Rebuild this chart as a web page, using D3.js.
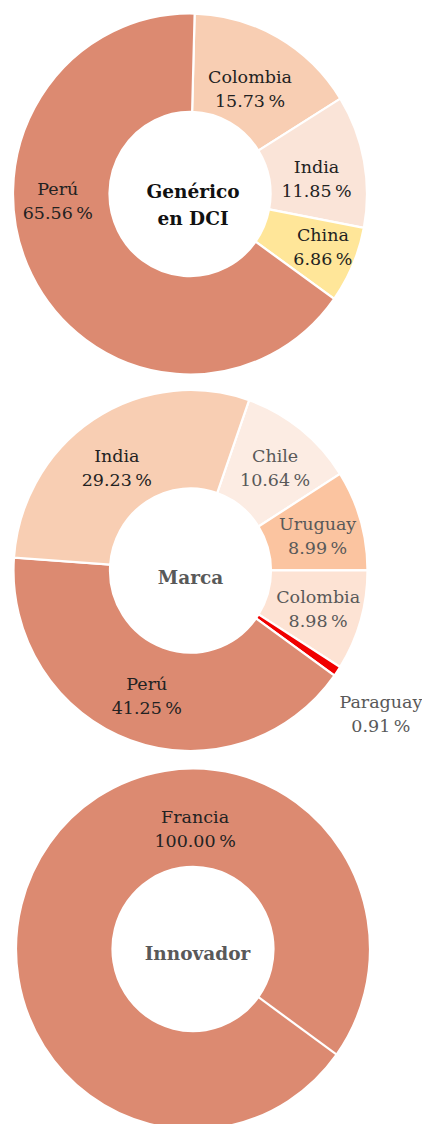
<!DOCTYPE html>
<html>
<head>
<meta charset="utf-8">
<script src="https://cdn.jsdelivr.net/npm/d3@7"></script>
<style>
  body { margin: 0; background: #fff; }
  svg text { font-family: "DejaVu Serif", serif; }
</style>
</head>
<body>
<div id="chart"></div>
<script>
// data: share of units by country of origin, per product type
const genCountries = ["Colombia", "India", "China", "Perú"];
const genShares = [15.73, 11.85, 6.86, 65.56];

const marcaCountries = ["Chile", "Uruguay", "Colombia", "Paraguay", "Perú", "India"];
const marcaShares = [10.64, 8.99, 8.98, 0.91, 41.25, 29.23];

const innovCountries = ["Francia"];
const innovShares = [100.00];

const centerTitles = [["Genérico", "en DCI"], ["Marca"], ["Innovador"]];

// styles
const genColors = ["#F8CEB3", "#FAE4D8", "#FFE699", "#DC8A71"];
const genText = ["#222", "#222", "#222", "#222"];
const marcaColors = ["#FCECE3", "#FBC4A0", "#FDE3D4", "#F00000", "#DC8A71", "#F8CEB3"];
const marcaText = ["#595959", "#595959", "#595959", "#595959", "#222", "#222"];
const innovColors = ["#DC8A71"];
const innovText = ["#222"];

const width = 422, height = 1124;
const rOuter = 177, rInner = 80.5, yStretch = 1.02;

const svg = d3.select("#chart").append("svg")
  .attr("width", width)
  .attr("height", height);

const deg = Math.PI / 180;

const charts = [
  { names: genCountries, values: genShares, colors: genColors, text: genText,
    cx: 190, cy: 194, start: 1.5, title: centerTitles[0], titleColor: "#111",
    titleDx: 3, titleDy: 4,
    nudge: [[-4, 1], [0, 2.5], [14.5, -3.5], [-17, -56.5]], outside: [] },
  { names: marcaCountries, values: marcaShares, colors: marcaColors, text: marcaText,
    cx: 190.5, cy: 570.5, start: 19.33, title: centerTitles[1], titleColor: "#595959",
    titleDx: 0, titleDy: 13.5,
    nudge: [[4.5, -7.5], [3.5, -4.5], [4, -3.5], [-7, 4.5], [0, -1.5], [-3, -1]], outside: ["Paraguay"] },
  { names: innovCountries, values: innovShares, colors: innovColors, text: innovText,
    cx: 193, cy: 949, start: 125.8, title: centerTitles[2], titleColor: "#595959",
    titleDx: 4.5, titleDy: 11,
    nudge: [[106.5, -50.5]], outside: [] }
];

charts.forEach(drawDonut);

function drawDonut(c) {
  const rows = c.names.map((n, i) => ({ name: n, value: c.values[i], i: i }));

  const pie = d3.pie()
    .sort(null)
    .value(d => d.value)
    .startAngle(c.start * deg)
    .endAngle(c.start * deg + 2 * Math.PI);

  const arc = d3.arc().innerRadius(rInner).outerRadius(rOuter);
  const outerArc = d3.arc().innerRadius(238).outerRadius(238);

  const arcs = pie(rows);

  const g = svg.append("g")
    .attr("transform", `translate(${c.cx},${c.cy})`);

  const ring = g.append("g")
    .attr("transform", `scale(1,${yStretch})`);

  ring.selectAll("path")
    .data(arcs)
    .enter()
    .append("path")
    .attr("d", arc)
    .attr("fill", d => c.colors[d.data.i])
    .attr("stroke", "#fff")
    .attr("stroke-width", 2.2);

  // a single full slice has no radial edge, draw the seam by hand
  if (arcs.length === 1) {
    const a = arcs[0].startAngle;
    const p0 = d3.pointRadial(a, rInner - 1), p1 = d3.pointRadial(a, rOuter + 1);
    ring.append("line")
      .attr("x1", p0[0]).attr("y1", p0[1])
      .attr("x2", p1[0]).attr("y2", p1[1])
      .attr("stroke", "#fff")
      .attr("stroke-width", 2.2);
  }

  const fmt = d3.format(".2f");

  const labels = g.selectAll(".lbl")
    .data(arcs)
    .enter()
    .append("text")
    .attr("class", "lbl")
    .attr("text-anchor", "middle")
    .style("font-size", "17.5px")
    .attr("fill", d => c.text[d.data.i])
    .attr("transform", d => {
      const p = c.outside.includes(d.data.name) ? outerArc.centroid(d) : arc.centroid(d);
      const n = c.nudge[d.data.i];
      return `translate(${p[0] + n[0]},${p[1] + n[1]})`;
    });

  labels.append("tspan")
    .attr("x", 0).attr("y", 0)
    .text(d => d.data.name);
  labels.append("tspan")
    .attr("x", 0).attr("y", 24)
    .text(d => fmt(d.data.value) + "\u2009%");

  const title = g.append("text")
    .attr("text-anchor", "middle")
    .attr("fill", c.titleColor)
    .style("font-size", "18.5px")
    .style("font-weight", "bold")
    .attr("transform", `translate(${c.titleDx},${c.titleDy})`);

  title.selectAll("tspan")
    .data(c.title)
    .enter()
    .append("tspan")
    .attr("x", 0)
    .attr("y", (d, i) => i * 27)
    .text(d => d);
}
</script>
</body>
</html>
